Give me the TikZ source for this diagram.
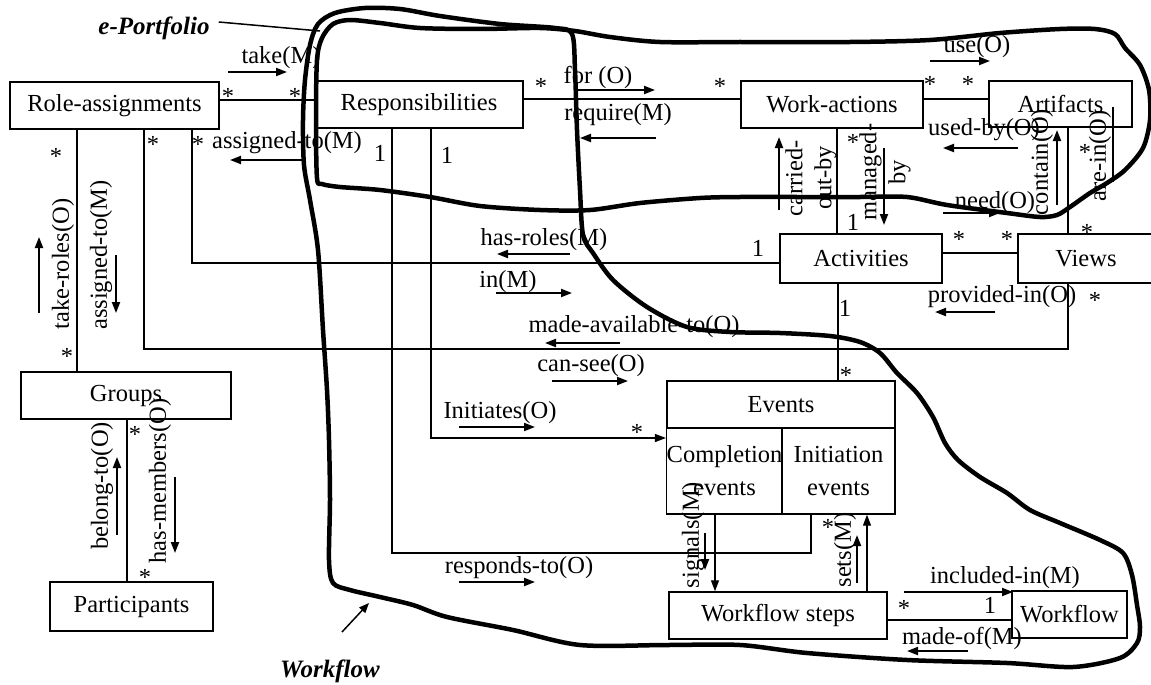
\documentclass[tikz,border=0pt]{standalone}
\usepackage{fontspec}
\setmainfont{Liberation Serif}
\usetikzlibrary{arrows.meta}
\begin{document}
\begin{tikzpicture}[x=1pt,y=-1pt,
  box/.style={draw, line width=1.4pt, inner sep=0pt, font=\fontsize{24.5}{29}\selectfont},
  lbl/.style={inner sep=0pt, font=\fontsize{24.5}{29}\selectfont},
  mult/.style={inner sep=0pt, font=\fontsize{24.5}{29}\selectfont},
  conn/.style={line width=1.3pt},
  tip/.style={-{Triangle[length=11pt,width=8pt]}},
  dirarr/.style={line width=2pt, -{Triangle[length=11pt,width=8pt]}},
  hand/.style={line width=4.5pt, line join=round, line cap=round},
  big/.style={inner sep=0pt, font=\fontsize{25}{30}\selectfont\bfseries\itshape}]
\useasboundingbox (0,0) rectangle (1151,685);

% boxes
\node[box, minimum width=209, minimum height=47] (ra) at (114.5,105.5) {Role-assignments};
\node[box, minimum width=208, minimum height=47] (resp) at (419,104.5) {Responsibilities};
\node[box, minimum width=182, minimum height=47] (wa) at (832,104.5) {Work-actions};
\node[box, minimum width=143, minimum height=46] (art) at (1060.5,104) {Artifacts};
\node[box, minimum width=162, minimum height=49] (act) at (861,258.5) {Activities};
\node[box, minimum width=136, minimum height=49] (views) at (1086,258.5) {Views};
\node[box, minimum width=210, minimum height=47] (grp) at (126,395.5) {Groups};
\node[box, minimum width=163, minimum height=49] (part) at (131.5,606.5) {Participants};
\node[box, minimum width=228, minimum height=47] (ev) at (781,404.5) {Events};
\node[box, minimum width=115, minimum height=86, align=center, font=\fontsize{24.5}{33}\selectfont] (comp) at (724.5,471) {Completion\\events};
\node[box, minimum width=113, minimum height=86, align=center, font=\fontsize{24.5}{33}\selectfont] (init) at (838.5,471) {Initiation\\events};
\node[box, minimum width=218, minimum height=47] (wfs) at (778,615.5) {Workflow steps};
\node[box, minimum width=115, minimum height=47] (wf) at (1069.5,614.5) {Workflow};

% connectors
\draw[conn] (ra.east |- 0,100) -- (resp.west |- 0,100);
\draw[conn] (resp.east |- 0,99) -- (wa.west |- 0,99);
\draw[conn] (wa.east |- 0,99) -- (art.west |- 0,99);
\draw[conn] (837,0 |- wa.south) -- (837,0 |- act.north);
\draw[conn] (act.east |- 0,253) -- (views.west |- 0,253);
\draw[conn] (1068,0 |- art.south) -- (1068,0 |- views.north);
\draw[conn] (act.west |- 0,263) -- (192,263) -- (192,0 |- ra.south);
\draw[conn] (1068,0 |- views.south) -- (1068,349) -- (144,349) -- (144,0 |- ra.south);
\draw[conn] (838,0 |- act.south) -- (838,0 |- ev.north);
\draw[conn] (77,0 |- ra.south) -- (77,0 |- grp.north);
\draw[conn] (127,0 |- grp.south) -- (127,0 |- part.north);
\draw[conn, tip] (431,0 |- resp.south) |- (comp.west |- 0,438);
\draw[conn] (392,0 |- resp.south) |- (811,553) -- (811,0 |- init.south);
\draw[conn, tip] (715,0 |- comp.south) -- (715,0 |- wfs.north);
\draw[conn, tip] (867,0 |- wfs.north) -- (867,0 |- init.south);
\draw[conn] (wfs.east |- 0,620) -- (wf.west |- 0,620);
\coordinate (areinA) at (1113,107);
\coordinate (areinB) at (1113,182);
\draw[conn] (areinA) -- (areinB);

% association labels
\node[lbl] (l1) at (281,58) {take(M)};
\node[lbl] (l2) at (598,77) {for (O)};
\node[lbl] (l3) at (618,115) {require(M)};
\node[lbl] (l4) at (977,47) {use(O)};
\node[lbl] (l5) at (984,130) {used-by(O)};
\node[lbl, rotate=90, align=center] (l6) at (811,178) {carried-\\out-by};
\node[lbl, rotate=90, align=center] (l7) at (885,172) {managed-\\by};
\node[lbl] (l8) at (995,203) {need(O)};
\node[lbl, rotate=90] (l9) at (1042,162) {contain(O)};
\node[lbl, rotate=90] (l10) at (1100,156) {are-in(O)};
\node[lbl] (l11) at (544,240) {has-roles(M)};
\node[lbl] (l12) at (508,282) {in(M)};
\node[lbl] (l13) at (634,327) {made-available-to(O)};
\node[lbl] (l14) at (591,366) {can-see(O)};
\node[lbl] (l15) at (1002,297) {provided-in(O)};
\node[lbl] (l16) at (500,413) {Initiates(O)};
\node[lbl] (l17) at (519,568) {responds-to(O)};
\node[lbl] (l18) at (287,143) {assigned-to(M)};
\node[lbl, rotate=90] (l19) at (63,264) {take-roles(O)};
\node[lbl, rotate=90] (l20) at (101,255) {assigned-to(M)};
\node[lbl, rotate=90] (l21) at (102,486) {belong-to(O)};
\node[lbl, rotate=90] (l22) at (160,481) {has-members(O)};
\node[lbl, rotate=90] (l23) at (693,535) {signals(M)};
\node[lbl, rotate=90] (l24) at (845,550) {sets(M)};
\node[lbl] (l25) at (1005,578) {included-in(M)};
\node[lbl] (l26) at (962,638) {made-of(M)};

% multiplicities
\foreach \x/\y [count=\i] in {228/92,295/92,541/82,720/82,930/80,968/80,853/138,1085/148,1087/228,959/235,1007/235,1095/296,846/371,637/428,56/152,153/140,198/140,67/352,135/430,145/573,828/523,904/604}
  \node[mult] (star\i) at (\x,\y+4) {*};
\foreach \x/\y [count=\i] in {853/222,758/248,845/308,380/153,447/155,990/605}
  \node[mult] (one\i) at (\x,\y) {1};

% direction arrows
\draw[dirarr] (228,72) -- (287,72);
\draw[dirarr] (578,90) -- (655,90);
\draw[dirarr] (656,138) -- (580,138);
\draw[dirarr] (930,61) -- (990,61);
\draw[dirarr] (1018,148) -- (943,148);
\draw[dirarr] (779,210) -- (779,137);
\draw[dirarr] (884,148) -- (884,225);
\draw[dirarr] (943,213) -- (1000,213);
\draw[dirarr] (1057,205) -- (1057,130);
\draw[dirarr] (570,254) -- (497,254);
\draw[dirarr] (496,293) -- (572,293);
\draw[dirarr] (995,312) -- (935,312);
\draw[dirarr] (620,343) -- (545,343);
\draw[dirarr] (552,381) -- (628,381);
\draw[dirarr] (459,427) -- (535,427);
\draw[dirarr] (459,582) -- (535,582);
\draw[dirarr] (302,160) -- (230,160);
\draw[dirarr] (39,313) -- (39,237);
\draw[dirarr] (116,255) -- (116,313);
\draw[dirarr] (117,535) -- (117,457);
\draw[dirarr] (175,477) -- (175,553);
\draw[dirarr] (705,533) -- (705,570);
\draw[dirarr] (857,583) -- (857,535);
\draw[dirarr] (904,592) -- (1013,592);
\draw[dirarr] (968,651) -- (907,651);

% hand-drawn outlines
\draw[hand] plot[smooth cycle, tension=0.5] coordinates {
(317,178) (316,120) (317,60) (322,38) (333,24) (350,20) (380,23) (420,28) (480,29) (540,28) (575,31) (610,37) (660,42) (740,42) (850,42) (930,40) (1000,33) (1060,29) (1095,29) (1115,34) (1125,48) (1140,65) (1149,90) (1150,120) (1143,148) (1125,170) (1107,183) (1090,193) (1070,207) (1057,215) (1040,217) (1007,213) (947,205) (907,197) (860,197) (800,197) (740,197) (700,198) (640,203) (590,210) (540,210) (480,206) (430,197) (380,190) (340,187) (322,184)};
\draw[hand] plot[smooth cycle, tension=0.5] coordinates {
(310,45) (318,24) (335,13) (365,8) (400,9) (440,16) (500,24) (555,28) (572,34) (575,70) (577,130) (580,190) (583,235) (593,253) (613,280) (647,307) (687,327) (730,332) (780,333) (830,336) (860,342) (880,353) (897,373) (917,393) (933,417) (945,443) (958,460) (980,477) (1007,493) (1030,510) (1060,523) (1100,540) (1123,553) (1132,575) (1137,605) (1140,627) (1137,643) (1120,658) (1073,667) (1007,663) (907,660) (807,653) (740,645) (667,645) (580,645) (513,630) (447,617) (413,605) (380,597) (350,590) (333,583) (329,560) (330,500) (329,440) (327,390) (323,330) (318,250) (310,200) (304,165) (303,120) (305,80)};

% outline names
\node[big] (eport) at (154,28) {e-Portfolio};
\coordinate (epend) at (320,31);
\draw[line width=1.5pt] ([shift={(9,-6)}]eport.east) -- (epend);
\node[big] (wflab) at (330,671) {Workflow};
\coordinate (wfa) at (342,632);
\coordinate (wfb) at (369,603);
\draw[line width=1.5pt, -{Triangle[length=10pt,width=8pt]}] (wfa) -- (wfb);
\end{tikzpicture}
\end{document}
